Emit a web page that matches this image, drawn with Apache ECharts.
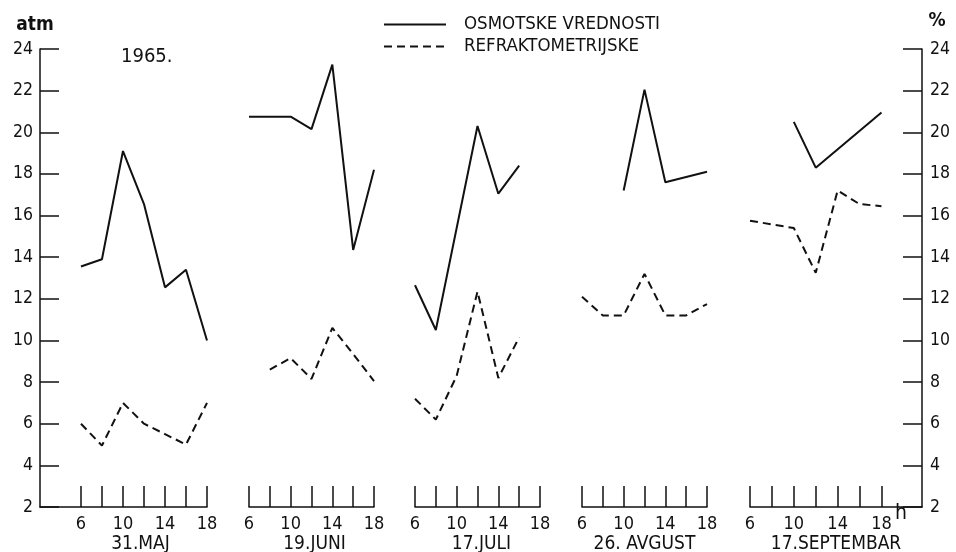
<!DOCTYPE html>
<html>
<head>
<meta charset="utf-8">
<script src="https://cdn.jsdelivr.net/npm/echarts@6/dist/echarts.min.js"></script>
<style>
  html, body { margin: 0; padding: 0; background: #fff; }
  #chart { width: 956px; height: 552px; }
</style>
</head>
<body>
<div id="chart"></div>
<script>
// Sampling hours for every day (h)
const hours = [6, 8, 10, 12, 14, 16, 18];
const hourLabels = [6, 10, 14, 18];
const days = ['31.MAJ', '19.JUNI', '17.JULI', '26. AVGUST', '17.SEPTEMBAR'];
const yearLabel = '1965.';
const seriesNames = ['OSMOTSKE VREDNOSTI', 'REFRAKTOMETRIJSKE'];

// Osmotic values (atm); null = no reading at that hour
const osmMaj   = [13.55, 13.9, 19.1, 16.55, 12.55, 13.4, 10.0];
const osmJuni  = [20.75, 20.75, 20.75, 20.15, 23.25, 14.35, 18.2];
const osmJuli  = [12.65, 10.5, null, 20.3, 17.05, 18.4, null];
const osmAvg   = [null, null, 17.2, 22.05, 17.6, null, 18.1];
const osmSep   = [null, null, 20.5, 18.3, null, null, 20.95];

// Refractometric values (%)
const refMaj   = [6.0, 4.95, 7.0, 6.0, 5.5, 5.0, 7.0];
const refJuni  = [null, 8.6, 9.15, 8.15, 10.6, 9.35, 8.05];
const refJuli  = [7.2, 6.2, 8.3, 12.35, 8.2, 10.15, null];
const refAvg   = [12.1, 11.2, 11.2, 13.2, 11.2, 11.2, 11.75];
const refSep   = [15.75, null, 15.4, 13.25, 17.2, 16.55, 16.45];

const osmotic = [osmMaj, osmJuni, osmJuli, osmAvg, osmSep];
const refracto = [refMaj, refJuni, refJuli, refAvg, refSep];

const INK = '#111';
const FONT = '"DejaVu Sans Condensed", "DejaVu Sans", sans-serif';
const TOP = 49, BOTTOM = 45;

// Horizontal placement of each day's hour scale
const groupLayout = [
  { left: 40,  width: 167, min: 2.1, max: 18, namePad: [0, 0, 0, 34] },
  { left: 249, width: 125, min: 6,   max: 18, namePad: [0, 0, 0, 6] },
  { left: 415, width: 125, min: 6,   max: 18, namePad: [0, 0, 0, 8] },
  { left: 582, width: 125, min: 6,   max: 18, namePad: [0, 0, 0, 0] },
  { left: 750, width: 172, min: 6,   max: 21.7, namePad: [0, 0, 0, 0] }
];

const grids = [{ left: 40, right: 34, top: TOP, bottom: BOTTOM, outerBoundsMode: 'none' }];
const xAxes = [{ gridIndex: 0, type: 'value', show: false, min: 0, max: 1 }];
const yAxisBase = {
  type: 'value', min: 2, max: 24, interval: 2,
  axisLine: { show: true, lineStyle: { color: INK, width: 1.5 } },
  axisTick: { show: true, inside: true, length: 19, lineStyle: { color: INK, width: 1.5 } },
  axisLabel: { color: INK, fontSize: 17.5, fontFamily: FONT, margin: 7 },
  splitLine: { show: false }
};
const yAxes = [
  Object.assign({}, yAxisBase, {
    gridIndex: 0, position: 'left', name: 'atm', nameLocation: 'end', nameGap: 14,
    nameTextStyle: { color: INK, fontSize: 19, fontWeight: 'bold', fontFamily: FONT, padding: [0, 10, 0, 0] }
  }),
  Object.assign({}, yAxisBase, {
    gridIndex: 0, position: 'right', name: '%', nameLocation: 'end', nameGap: 18,
    nameTextStyle: { color: INK, fontSize: 19, fontWeight: 'bold', fontFamily: FONT, padding: [0, 0, 0, 30] },
    axisLabel: Object.assign({}, yAxisBase.axisLabel, { margin: 8 })
  })
];

const series = [];
groupLayout.forEach((g, i) => {
  grids.push({ left: g.left, width: g.width, top: TOP, bottom: BOTTOM, outerBoundsMode: 'none' });
  xAxes.push({
    gridIndex: i + 1, type: 'value', min: g.min, max: g.max,
    axisLine: { show: true, lineStyle: { color: INK, width: 1.5 } },
    axisTick: { show: true, inside: true, length: 21, customValues: hours, lineStyle: { color: INK, width: 1.5 } },
    axisLabel: { customValues: hourLabels, color: INK, fontSize: 18, fontFamily: FONT, margin: 8 },
    splitLine: { show: false },
    name: days[i], nameLocation: 'middle', nameGap: 28, nameMoveOverlap: false,
    nameTextStyle: { color: INK, fontSize: 19, fontFamily: FONT, padding: g.namePad }
  });
  yAxes.push({ gridIndex: i + 1, type: 'value', min: 2, max: 24, show: false });
  const yi = yAxes.length - 1;
  series.push({
    name: seriesNames[0], type: 'line', xAxisIndex: i + 1, yAxisIndex: yi,
    data: hours.map((h, k) => [h, osmotic[i][k]]),
    connectNulls: true, symbol: 'none', silent: true,
    lineStyle: { color: INK, width: 2, type: 'solid' }, itemStyle: { color: INK }
  });
  series.push({
    name: seriesNames[1], type: 'line', xAxisIndex: i + 1, yAxisIndex: yi,
    data: hours.map((h, k) => [h, refracto[i][k]]),
    connectNulls: true, symbol: 'none', silent: true,
    lineStyle: { color: INK, width: 2, type: [8, 5] }, itemStyle: { color: INK }
  });
});

const chart = echarts.init(document.getElementById('chart'), null, { renderer: 'canvas' });
chart.setOption({
  backgroundColor: '#fff',
  animation: false,
  title: {
    text: yearLabel, left: 116, top: 42,
    textStyle: { color: INK, fontSize: 20, fontWeight: 'normal', fontFamily: FONT }
  },
  legend: {
    orient: 'vertical', left: 378, top: 10, itemWidth: 62, itemHeight: 14, itemGap: 3,
    data: seriesNames,
    itemStyle: { opacity: 0 },
    lineStyle: { width: 2 },
    textStyle: { color: INK, fontSize: 18.5, fontFamily: FONT, padding: [0, 0, 0, 13] },
    selectedMode: false
  },
  graphic: [{
    type: 'text', left: 895, top: 503,
    style: { text: 'h', fill: INK, fontSize: 21, fontFamily: FONT }
  }],
  grid: grids,
  xAxis: xAxes,
  yAxis: yAxes,
  series: series
});
</script>
</body>
</html>
